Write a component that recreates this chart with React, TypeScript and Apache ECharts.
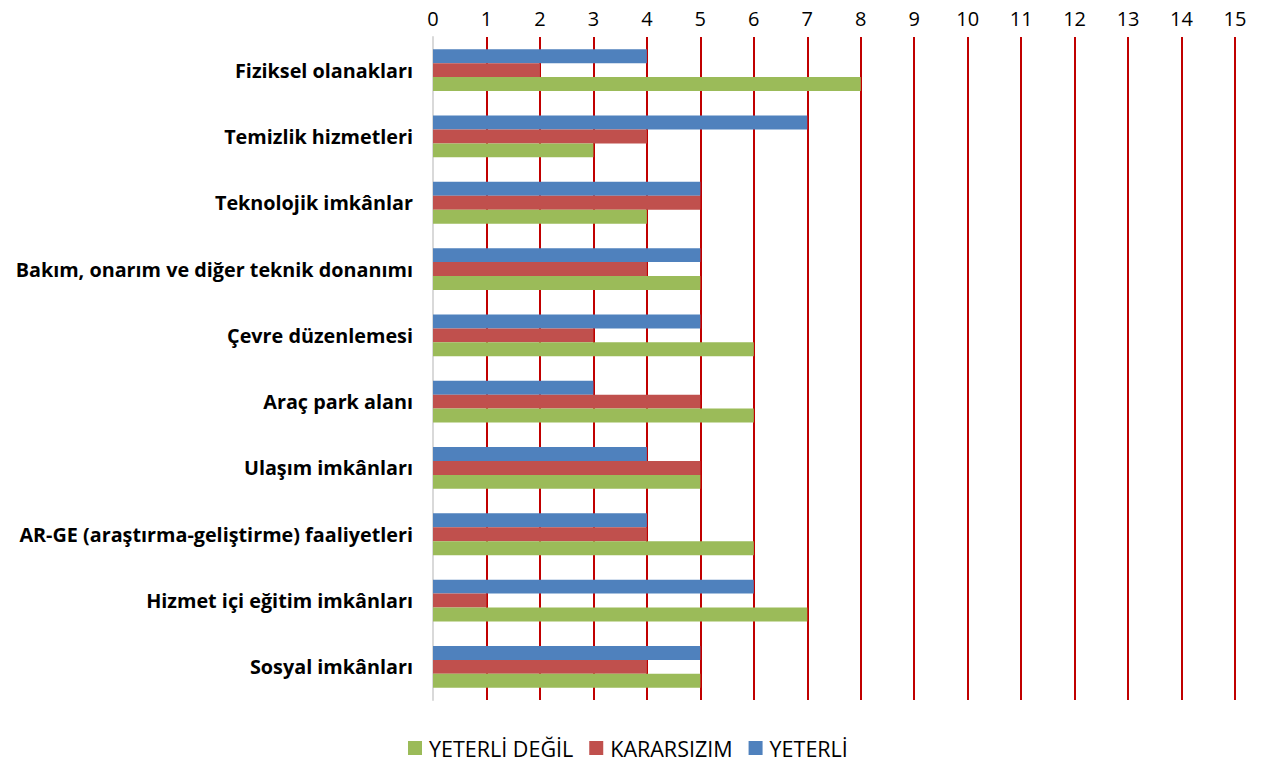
import React, { useEffect, useRef } from "react";
import * as echarts from "echarts";

const categories = [
  "Fiziksel olanakları",
  "Temizlik hizmetleri",
  "Teknolojik imkânlar",
  "Bakım, onarım ve diğer teknik donanımı",
  "Çevre düzenlemesi",
  "Araç park alanı",
  "Ulaşım imkânları",
  "AR-GE (araştırma-geliştirme) faaliyetleri",
  "Hizmet içi eğitim imkânları",
  "Sosyal imkânları",
];
const yeterliDegil = [8, 3, 4, 5, 6, 6, 5, 6, 7, 5];
const kararsizim = [2, 4, 5, 4, 3, 5, 5, 4, 1, 4];
const yeterli = [4, 7, 5, 5, 5, 3, 4, 4, 6, 5];

const FONT = "'Open Sans', 'Liberation Sans', sans-serif";

export default function App() {
  const ref = useRef<HTMLDivElement>(null);
  useEffect(() => {
    if (!ref.current) return;
    const chart = echarts.init(ref.current, null, { renderer: "svg" });
    const bar = (name: string, data: number[], color: string) => ({
      name,
      type: "bar",
      data,
      barGap: "0%",
      barCategoryGap: "37%",
      itemStyle: { color },
    });
    chart.setOption({
      animation: false,
      textStyle: { fontFamily: FONT },
      grid: { left: 433, right: 29, top: 37, bottom: 70 },
      legend: {
        bottom: 6,
        left: 403,
        itemWidth: 14,
        itemHeight: 14,
        itemGap: 16,
        icon: "rect",
        textStyle: {
          fontSize: 21.5,
          color: "#000",
          fontFamily: FONT,
          padding: [0, 0, 0, 2],
        },
        data: ["YETERLİ DEĞİL", "KARARSIZIM", "YETERLİ"],
      },
      xAxis: {
        type: "value",
        position: "top",
        min: 0,
        max: 15,
        interval: 1,
        axisLine: { show: false },
        axisTick: { show: false },
        axisLabel: { fontSize: 20, color: "#000", margin: 9, fontFamily: FONT },
        splitLine: { show: true, lineStyle: { color: "#C00000", width: 2 } },
      },
      yAxis: {
        type: "category",
        data: categories,
        inverse: true,
        axisLine: { show: true, lineStyle: { color: "#D9D9D9", width: 2 } },
        axisTick: { show: false },
        axisLabel: {
          fontSize: 19.8,
          fontWeight: "bold",
          color: "#000",
          margin: 20,
          fontFamily: FONT,
        },
      },
      series: [
        bar("YETERLİ", yeterli, "#4F81BD"),
        bar("KARARSIZIM", kararsizim, "#C0504D"),
        bar("YETERLİ DEĞİL", yeterliDegil, "#9BBB59"),
      ],
    });
    return () => chart.dispose();
  }, []);
  return <div ref={ref} style={{ width: 1264, height: 770, margin: -8 }} />;
}
